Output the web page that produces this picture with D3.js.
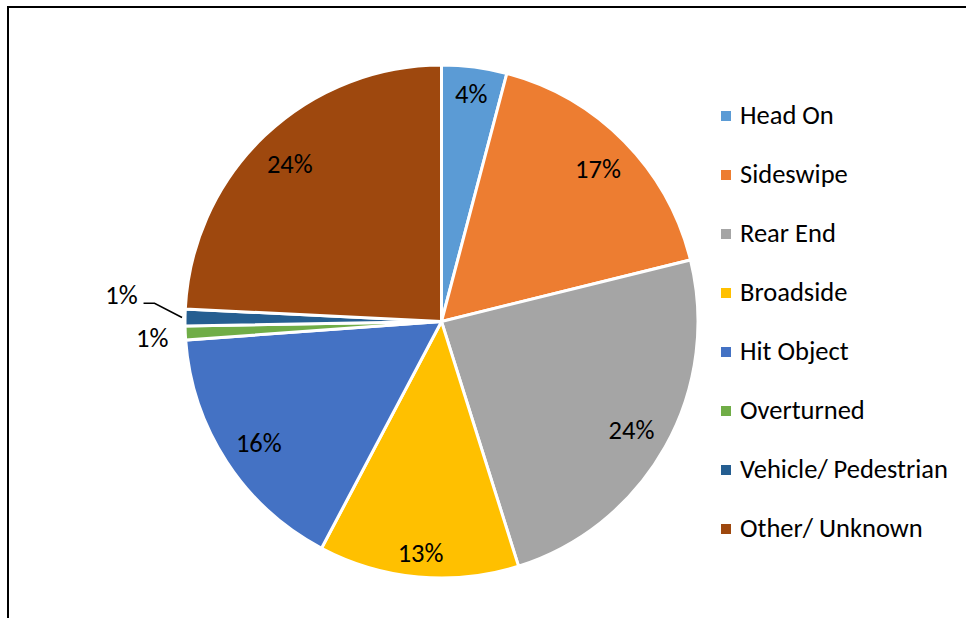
<!DOCTYPE html>
<html>
<head>
<meta charset="utf-8">
<script src="https://cdn.jsdelivr.net/npm/d3@7"></script>
<style>
  html, body { margin: 0; padding: 0; background: #fff; }
  svg { display: block; }
  text { font-family: 'Carlito', 'Lato', sans-serif; fill: #000; }
</style>
</head>
<body>
<svg id="chart" width="966" height="618"></svg>
<script>
// Collision types and their share of all collisions (percent)
const categories = ["Head On", "Sideswipe", "Rear End", "Broadside", "Hit Object",
                    "Overturned", "Vehicle/ Pedestrian", "Other/ Unknown"];
const shares = [4.10, 17.04, 24.00, 12.60, 16.10, 0.87, 1.06, 24.22];
const colors = ["#5B9BD5", "#ED7D31", "#A5A5A5", "#FFC000", "#4472C4",
                "#70AD47", "#255E91", "#9E480E"];

const svg = d3.select("#chart");
const W = 966, H = 618;
const FS = 26.5;             // font size for all chart text
const CAP = FS * 0.63;       // approximate digit / cap height

// Chart frame (runs past the right and bottom edges of the view)
svg.append("path")
  .attr("d", `M8,${H + 5} V7 H${W + 5}`)
  .attr("fill", "none")
  .attr("stroke", "#000")
  .attr("stroke-width", 2);

const cx = 441.5, cy = 321.5, R = 256.5;
const total = d3.sum(shares);
const data = categories.map((c, i) => ({ name: c, value: shares[i], color: colors[i] }));

const pie = d3.pie().sort(null).value(d => d.value);
const arcs = pie(data);
const arc = d3.arc().innerRadius(0).outerRadius(R);

const g = svg.append("g").attr("transform", `translate(${cx},${cy})`);

g.selectAll("path.slice")
  .data(arcs)
  .join("path")
  .attr("class", "slice")
  .attr("d", arc)
  .attr("fill", d => d.data.color)
  .attr("stroke", "#fff")
  .attr("stroke-width", 3)
  .attr("stroke-linejoin", "miter");

const pct = d => Math.round(d.data.value / total * 100) + "%";
const mid = d => (d.startAngle + d.endAngle) / 2;
const edge = (d, r) => [r * Math.sin(mid(d)), -r * Math.cos(mid(d))];

// Labels inside the larger slices: slide each label outward along the
// slice bisector until its outer corner sits a fixed distance inside the rim.
const FIT = 242;
const big = arcs.filter(d => d.data.value / total >= 0.02);
g.selectAll("text.inside")
  .data(big)
  .join("text")
  .attr("class", "inside")
  .attr("text-anchor", "middle")
  .attr("font-size", FS)
  .text(pct)
  .each(function (d) {
    const w = this.getComputedTextLength();
    const a = mid(d);
    const s = Math.abs(Math.sin(a)), c = Math.abs(Math.cos(a));
    const B = s * w + c * CAP;
    const C = (w * w + CAP * CAP) / 4 - FIT * FIT;
    const r = (-B + Math.sqrt(B * B - 4 * C)) / 2;
    const [x, y] = [r * Math.sin(a), -r * Math.cos(a)];
    d3.select(this).attr("x", x).attr("y", y + CAP / 2 + 2.5);
  });

// Thin slices get their labels outside the pie
const small = arcs.filter(d => d.data.value / total < 0.02);
small.forEach((d, i) => {
  const [ex, ey] = edge(d, R);
  if (i === 0) {
    g.append("text")
      .attr("x", ex - 33).attr("y", ey + 13.6)
      .attr("text-anchor", "middle")
      .attr("font-size", FS)
      .text(pct(d));
  } else {
    g.append("path")
      .attr("d", `M${ex - 3},${ey} L${ex - 30.5},${ey - 14.2} L${ex - 41.5},${ey - 14.2}`)
      .attr("fill", "none")
      .attr("stroke", "#000")
      .attr("stroke-width", 1.5);
    g.append("text")
      .attr("x", ex - 63.5).attr("y", ey - 13.2)
      .attr("text-anchor", "middle")
      .attr("font-size", FS)
      .text(pct(d));
  }
});

// Legend
const legend = svg.append("g").attr("transform", "translate(721,116)");
const rows = legend.selectAll("g")
  .data(data)
  .join("g")
  .attr("transform", (d, i) => `translate(0,${i * 59})`);
rows.append("rect")
  .attr("x", 0).attr("y", -5).attr("width", 10).attr("height", 10)
  .attr("fill", d => d.color);
rows.append("text")
  .attr("x", 19).attr("y", 7.5)
  .attr("font-size", FS)
  .text(d => d.name);
</script>
</body>
</html>
